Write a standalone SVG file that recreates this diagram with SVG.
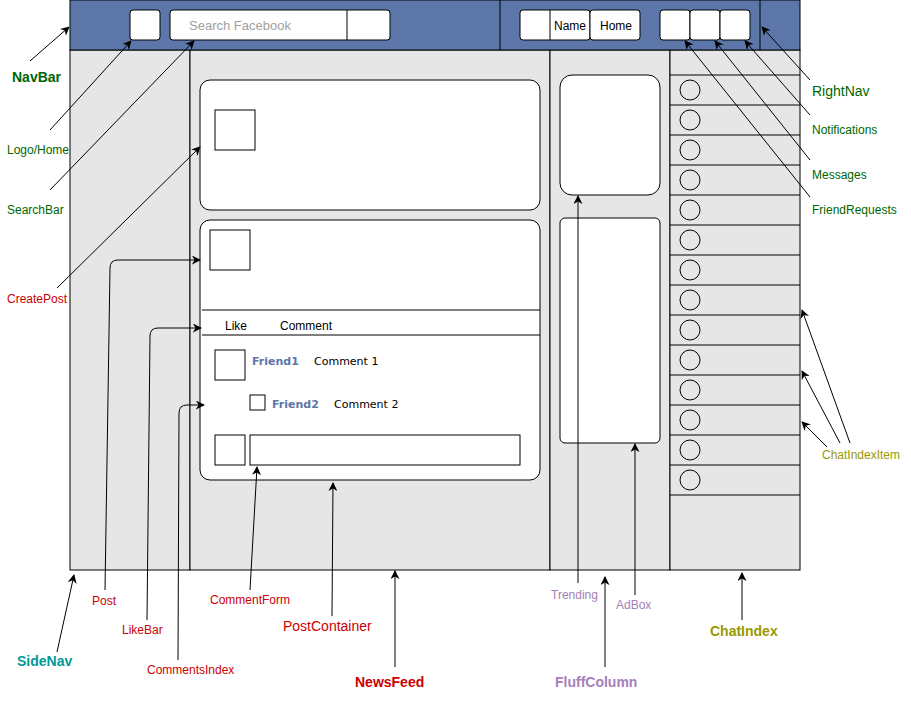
<svg xmlns="http://www.w3.org/2000/svg" width="911" height="704" viewBox="0 0 911 704">
<defs>
<marker id="ah" viewBox="0 0 10 10" refX="9" refY="5" markerWidth="9" markerHeight="9" markerUnits="userSpaceOnUse" orient="auto">
<path d="M0,0 L10,5 L0,10 L3,5 Z" fill="#000"/>
</marker>
</defs>
<style>
.ln{fill:none;stroke:#000;stroke-width:1}
.wb{fill:#fff;stroke:#000;stroke-width:1}
.gb{fill:#e6e6e6;stroke:#000;stroke-width:1}
.c{fill:none;stroke:#000;stroke-width:1;marker-end:url(#ah)}
text{font-family:"Liberation Sans",Arial,sans-serif;font-size:12px}
.g{fill:#006600}
.r{fill:#cc0000}
.p{fill:#a680b8}
.o{fill:#999900}
.t{fill:#009999}
.b{font-weight:bold;font-size:14px}
.big{font-size:14px}
.v{font-family:"DejaVu Sans",Verdana,sans-serif;font-size:11px}
.fr{fill:#5d76a9;font-weight:bold}
.ph{fill:#a0a0a0;font-size:13px}
</style>
<rect width="911" height="704" fill="#fff"/>
<g id="SideNav"><rect class="gb" x="70" y="50" width="120" height="520"/></g>
<g id="NewsFeed"><rect class="gb" x="190" y="50" width="360" height="520"/></g>
<g id="FluffColumn"><rect class="gb" x="550" y="50" width="120" height="520"/></g>
<g id="ChatIndex"><rect class="gb" x="670" y="50" width="130" height="520"/>
<path class="ln" d="M670,75H800M670,105H800M670,135H800M670,165H800M670,195H800M670,225H800M670,255H800M670,285H800M670,315H800M670,345H800M670,375H800M670,405H800M670,435H800M670,465H800M670,495H800"/>
</g>
<g id="ChatIndexItems">
<circle class="ln" cx="690" cy="90" r="10"/><circle class="ln" cx="690" cy="120" r="10"/><circle class="ln" cx="690" cy="150" r="10"/><circle class="ln" cx="690" cy="180" r="10"/><circle class="ln" cx="690" cy="210" r="10"/><circle class="ln" cx="690" cy="240" r="10"/><circle class="ln" cx="690" cy="270" r="10"/><circle class="ln" cx="690" cy="300" r="10"/><circle class="ln" cx="690" cy="330" r="10"/><circle class="ln" cx="690" cy="360" r="10"/><circle class="ln" cx="690" cy="390" r="10"/><circle class="ln" cx="690" cy="420" r="10"/><circle class="ln" cx="690" cy="450" r="10"/><circle class="ln" cx="690" cy="480" r="10"/>
</g>
<g id="NavBar"><rect x="70" y="0" width="730" height="50" fill="#5d76a9" stroke="#000"/>
<path class="ln" d="M500,0V50M760,0V50"/></g>
<g id="LogoHome"><rect class="wb" x="130" y="10" width="30" height="30" rx="3"/></g>
<g id="SearchBar"><rect class="wb" x="170" y="10" width="220" height="30" rx="3"/><path class="ln" d="M347,10V40"/>
<text class="ph" x="189" y="30">Search Facebook</text></g>
<g id="RightNav">
<rect class="wb" x="520" y="10" width="70" height="30" rx="3"/><path class="ln" d="M550,10V40"/>
<text x="554" y="30">Name</text>
<rect class="wb" x="590" y="10" width="50" height="30" rx="3"/>
<text x="600" y="30">Home</text>
</g>
<g id="FriendRequests"><rect class="wb" x="660" y="10" width="30" height="30" rx="3"/></g>
<g id="Messages"><rect class="wb" x="690" y="10" width="30" height="30" rx="3"/></g>
<g id="Notifications"><rect class="wb" x="720" y="10" width="30" height="30" rx="3"/></g>
<g id="CreatePost"><rect class="wb" x="200" y="80" width="340" height="130" rx="10"/>
<rect class="wb" x="215" y="110" width="40" height="40"/></g>
<g id="Post"><rect class="wb" x="200" y="220" width="340" height="260" rx="10"/>
<rect class="wb" x="210" y="230" width="40" height="40"/></g>
<g id="LikeBar"><path class="ln" d="M202,310H540M202,335H540"/>
<text x="225" y="330">Like</text><text x="280" y="330">Comment</text></g>
<g id="CommentsIndex">
<rect class="wb" x="215" y="350" width="30" height="30"/>
<text class="v fr" x="252" y="365">Friend1</text><text class="v" x="314" y="365">Comment 1</text>
<rect class="wb" x="250" y="395" width="15" height="15"/>
<text class="v fr" x="272" y="408">Friend2</text><text class="v" x="334" y="408">Comment 2</text>
</g>
<g id="CommentForm"><rect class="wb" x="215" y="435" width="30" height="30"/><rect class="wb" x="250" y="435" width="270" height="30"/></g>
<g id="Trending"><rect class="wb" x="560" y="75" width="100" height="120" rx="12"/></g>
<g id="AdBox"><rect class="wb" x="560" y="218" width="100" height="225" rx="5"/></g>
<g id="connectors">
<path class="c" d="M30,61L69,27"/>
<path class="c" d="M50,130L131,41"/>
<path class="c" d="M50,190L194,41"/>
<path class="c" d="M57,288L200,147"/>
<path class="c" d="M105,590L110,268Q110,260 118,260L200,260"/>
<path class="c" d="M147,620L150,336Q150,328 158,328L201,328"/>
<path class="c" d="M178,660L179,413Q179,405 187,405L204,405"/>
<path class="c" d="M250,590L257,467"/>
<path class="c" d="M332,616L333,483"/>
<path class="c" d="M395,667L395,571"/>
<path class="c" d="M57,652L74,575"/>
<path class="c" d="M578,583L578,196"/>
<path class="c" d="M635,595L635,444"/>
<path class="c" d="M605,667L605,577"/>
<path class="c" d="M742,620L742,573"/>
<path class="c" d="M850,443L802,310"/>
<path class="c" d="M840,443L802,371"/>
<path class="c" d="M827,447L802,422"/>
<path class="c" d="M810,80L762,27"/>
<path class="c" d="M810,115L745,41"/>
<path class="c" d="M810,160L715,41"/>
<path class="c" d="M810,197L685,41"/>
</g>
<g id="labels">
<text class="g b" x="12" y="82">NavBar</text>
<text class="g" x="7" y="154">Logo/Home</text>
<text class="g" x="7" y="214">SearchBar</text>
<text class="r" x="7" y="303">CreatePost</text>
<text class="r" x="92" y="605">Post</text>
<text class="r" x="122" y="634">LikeBar</text>
<text class="r" x="147" y="674">CommentsIndex</text>
<text class="r" x="210" y="604">CommentForm</text>
<text class="r big" x="283" y="631">PostContainer</text>
<text class="r b" x="355" y="687">NewsFeed</text>
<text class="t b" x="17" y="666">SideNav</text>
<text class="p" x="551" y="599">Trending</text>
<text class="p" x="616" y="609">AdBox</text>
<text class="p b" x="555" y="687">FluffColumn</text>
<text class="o b" x="710" y="636">ChatIndex</text>
<text class="o" x="822" y="459">ChatIndexItem</text>
<text class="g big" x="812" y="96">RightNav</text>
<text class="g" x="812" y="134">Notifications</text>
<text class="g" x="812" y="179">Messages</text>
<text class="g" x="812" y="214">FriendRequests</text>
</g>
</svg>
